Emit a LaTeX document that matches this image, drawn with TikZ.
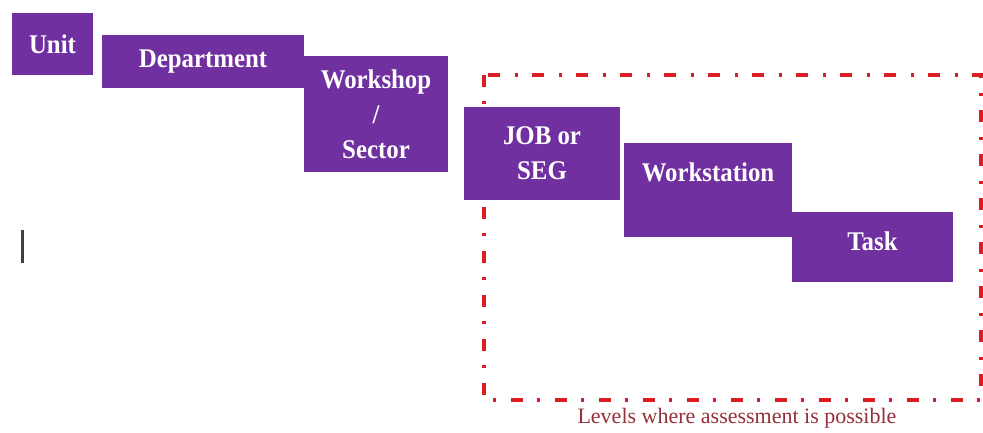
\documentclass[tikz,border=0pt]{standalone}
\usepackage{fontspec}
\setmainfont{Liberation Serif}
\newfontfamily\boxfont{Liberation Serif}[FakeStretch=0.92]
\definecolor{levelpurple}{RGB}{112,48,160}
\definecolor{zonered}{RGB}{222,28,36}
\definecolor{notered}{RGB}{150,48,58}
\tikzset{
  level/.style={fill=levelpurple, draw=none, inner sep=0pt, text=white,
    align=center, font=\boxfont\bfseries\fontsize{27}{35}\selectfont},
  zone/.style={draw=zonered, line width=4pt,
    dash pattern=on 12pt off 14pt on 3pt off 15pt},
  note/.style={text=notered, font=\fontsize{22}{26}\selectfont, inner sep=0pt},
  caret/.style={draw=black!75, line width=2.5pt}
}
\begin{document}
\begin{tikzpicture}[x=1pt,y=-1pt]
  \useasboundingbox[fill=white] (0,0) rectangle (983,432);

  % region where assessment can be carried out
  \coordinate (zoneTL) at (484,75);
  \coordinate (zoneBR) at (981,400);
  \draw[zone] (zoneTL) rectangle (zoneBR);

  % hierarchy of levels, stepping down to the right
  \node[level, minimum width=81pt, minimum height=62pt] (unit) at (52.5,44) {Unit};
  \node[level, minimum width=202pt, minimum height=53pt] (dept) at (203,61.5) {Department};
  \node[level, minimum width=144pt, minimum height=116pt] (shop) at (376,114) {Workshop\\/\\Sector};
  \node[level, minimum width=156pt, minimum height=93pt] (job) at (542,153.5) {JOB or\\SEG};
  \node[level, minimum width=168pt, minimum height=94pt] (ws) at (708,190)
    {\raisebox{18pt}[\height][\depth]{Workstation}};
  \node[level, minimum width=161pt, minimum height=70pt] (task) at (872.5,247)
    {\raisebox{6pt}[\height][\depth]{Task}};

  % caption under the region
  \node[note, anchor=base] (levels) at (737,423) {Levels where assessment is possible};

  % text cursor mark
  \coordinate (caretTop) at (22.5,230);
  \coordinate (caretBot) at (22.5,263);
  \draw[caret] (caretTop) -- (caretBot);
\end{tikzpicture}
\end{document}
